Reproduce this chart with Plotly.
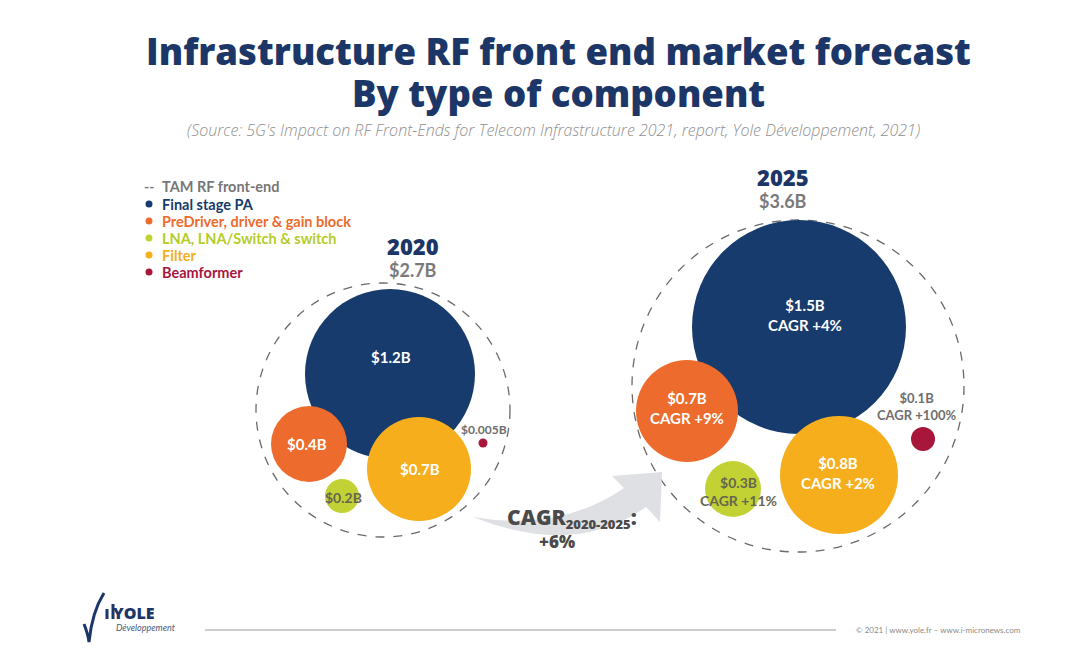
import plotly.graph_objects as go

# ---------------- data ----------------
years = ["2020", "2025"]
totals = [2.7, 3.6]
components = ["Final stage PA", "PreDriver, driver & gain block",
              "LNA, LNA/Switch & switch", "Filter", "Beamformer"]
values_2020 = [1.2, 0.4, 0.2, 0.7, 0.005]
values_2025 = [1.5, 0.7, 0.3, 0.8, 0.1]
cagr_2025 = [4, 9, 11, 2, 100]
overall_cagr = 6
cagr_period = "2020-2025"
tam_label = "TAM RF front-end"

# ---------------- layout / style (pixel space) ----------------
W, H = 1080, 655
colors = ["#173b6c", "#ec6b2d", "#c2d235", "#f6ae1c", "#a8163c"]
label_colors = ["white", "white", "#66664f", "white", "#6e6e6e"]
label_sizes = [15, 15, 14, 15, 12]

centers_2020 = [(390, 374), (309, 444), (342, 496), (419, 469), (483, 443)]
diam_2020 = [170, 76, 34, 104, 9]
lab_2020 = [(391, 357), (307, 444), (343, 497), (420, 469), (484, 429)]

centers_2025 = [(799, 327), (687, 411), (733, 489), (839, 475), (923, 439)]
diam_2025 = [214, 102, 56, 118, 24]
lab_2025 = [(805, 315), (687, 408), (738, 491), (838, 473), (916, 406)]

tam_centers = [(383, 410), (798, 386)]
tam_radius = [127, 166]
year_pos = [(413, 246), (783, 177)]

NAVY = "#1b3667"
FONT = "Lato"
TFONT = "Open Sans"

fig = go.Figure()

# bubbles: one trace per component, points for 2020 and 2025
for i, comp in enumerate(components):
    fig.add_trace(go.Scatter(
        x=[centers_2020[i][0], centers_2025[i][0]],
        y=[centers_2020[i][1], centers_2025[i][1]],
        mode="markers",
        name=comp,
        marker=dict(size=[diam_2020[i], diam_2025[i]], sizemode="diameter",
                    color=colors[i], line=dict(width=0), opacity=1),
        hoverinfo="skip",
    ))

def fmt(v):
    return f"${v:g}B"

annotations = []

def ann(x, y, text, size, color, weight="bold", style="normal", xanchor="center", family=FONT):
    annotations.append(dict(x=x, y=y, xref="x", yref="y", text=text, showarrow=False,
                            xanchor=xanchor, yanchor="middle",
                            font=dict(family=family, size=size, color=color,
                                      weight=weight, style=style)))

# bubble labels
for i in range(len(components)):
    ann(lab_2020[i][0], lab_2020[i][1], fmt(values_2020[i]), label_sizes[i], label_colors[i])
    ann(lab_2025[i][0], lab_2025[i][1],
        f"{fmt(values_2025[i])}<br>CAGR +{cagr_2025[i]}%",
        label_sizes[i] if i != 4 else 13, label_colors[i])

# TAM dashed circles
shapes = []
for (cx, cy), r in zip(tam_centers, tam_radius):
    shapes.append(dict(type="circle", xref="x", yref="y",
                       x0=cx - r, x1=cx + r, y0=cy - r, y1=cy + r,
                       line=dict(color="#6a6a6a", width=1.3, dash="dash"), layer="below"))

# year headers
for (x, y), yr, tot in zip(year_pos, years, totals):
    ann(x, y, yr, 22, NAVY, weight=800, family=TFONT)
    ann(x, y + 24, f"${tot:g}B", 18, "#7a7a7a")

# curved growth arrow
shapes.append(dict(type="path", xref="x", yref="y",
                   path="M 473,517 Q 560,532 624,488 L 612,476 L 662,472 L 660,522 L 646,507 Q 575,558 473,517 Z",
                   fillcolor="#dfe0e3", line=dict(width=0), layer="below"))
ann(572, 518, f"CAGR<sub><span style='font-size:13px'>{cagr_period}</span></sub>:", 21, "#4a4a4a",
    weight=800, family=TFONT)
ann(557, 541, f"+{overall_cagr}%", 17, "#4a4a4a", weight=800, family=TFONT)

# title
ann(558, 51, "Infrastructure RF front end market forecast", 36.5, NAVY, weight=800, family=TFONT)
ann(558, 93, "By type of component", 36.5, NAVY, weight=800, family=TFONT)
ann(553, 130, "(Source: 5G's Impact on RF Front-Ends for Telecom Infrastructure 2021, report, Yole Développement, 2021)",
    16, "#8f8f8f", weight=300, style="italic", family=TFONT)

# manual legend
leg_x_marker = 149
leg_x_text = 160
leg_y = [186, 204, 221, 238, 255, 272]
ann(leg_x_marker - 7, leg_y[0], "--", 14, "#777777", xanchor="left")
ann(leg_x_text, leg_y[0], tam_label, 14.5, "#777777", xanchor="left")
fig.add_trace(go.Scatter(
    x=[leg_x_marker] * len(components), y=leg_y[1:], mode="markers",
    marker=dict(size=7, color=colors, line=dict(width=0)), hoverinfo="skip", showlegend=False))
leg_text_colors = ["#173b6c", "#ec6b2d", "#b5cc2a", "#f6ae1c", "#a8163c"]
for comp, y, c in zip(components, leg_y[1:], leg_text_colors):
    ann(leg_x_text, y, comp, 14.5, c, xanchor="left")

# footer
shapes.append(dict(type="line", xref="x", yref="y", x0=205, x1=836, y0=630, y1=630,
                   line=dict(color="#9a9a9a", width=1)))
ann(938, 630, "© 2021 | www.yole.fr – www.i-micronews.com", 8, "#8a8a8a", weight="normal")
ann(134, 613, "YOLE", 16, NAVY, weight=800, family=TFONT)
ann(146, 627, "Développement", 9, "#4a5a7a", weight="normal", style="italic")
# logo swoosh
shapes.append(dict(type="path", xref="x", yref="y",
                   path="M 84,624 Q 88,634 89,642 Q 92,612 104,593",
                   line=dict(color=NAVY, width=3), layer="above"))
shapes.append(dict(type="line", xref="x", yref="y", x0=107, x1=107, y0=609, y1=619,
                   line=dict(color=NAVY, width=3)))
shapes.append(dict(type="line", xref="x", yref="y", x0=113, x1=113, y0=604, y1=619,
                   line=dict(color=NAVY, width=3)))

fig.update_layout(
    width=W, height=H, margin=dict(l=0, r=0, t=0, b=0),
    paper_bgcolor="white", plot_bgcolor="white", showlegend=False,
    xaxis=dict(range=[0, W], visible=False, fixedrange=True),
    yaxis=dict(range=[H, 0], visible=False, fixedrange=True),
    annotations=annotations, shapes=shapes,
)

fig.write_html("out.html", config={"displayModeBar": False},
               post_script="document.body.style.margin='0';")
